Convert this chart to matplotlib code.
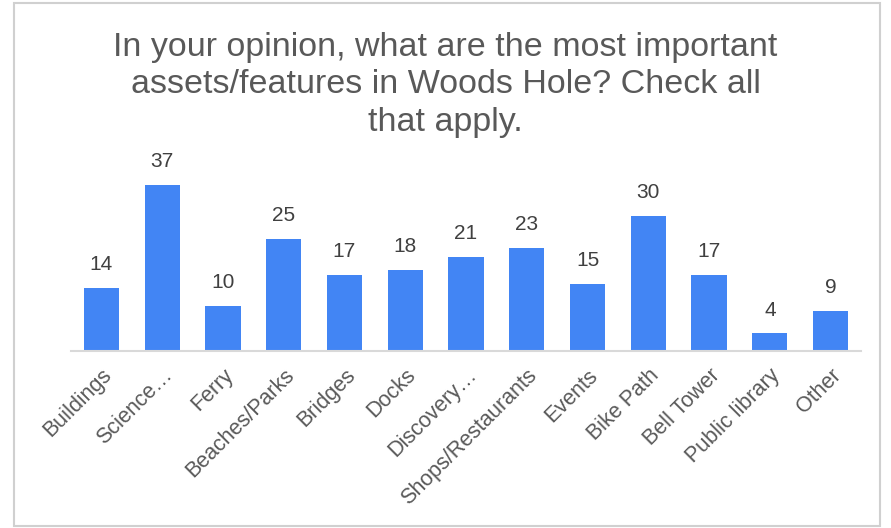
import matplotlib.pyplot as plt
from matplotlib.patches import Rectangle

plt.rcParams['font.family'] = ['Liberation Sans', 'DejaVu Sans']

categories = ['Buildings', 'Science…', 'Ferry', 'Beaches/Parks', 'Bridges', 'Docks',
              'Discovery…', 'Shops/Restaurants', 'Events', 'Bike Path', 'Bell Tower',
              'Public library', 'Other']
counts = [14, 37, 10, 25, 17, 18, 21, 23, 15, 30, 17, 4, 9]

title = "In your opinion, what are the most important\nassets/features in Woods Hole? Check all\nthat apply."

fig = plt.figure(figsize=(8.91, 5.28), dpi=100)
fig.patches.append(Rectangle((14 / 891, 2 / 528), 866 / 891, 523 / 528,
                             transform=fig.transFigure, fill=False,
                             edgecolor='#d0d0d0', linewidth=1.5))

ax = fig.add_axes([71 / 891, 177 / 528, 790 / 891, 180 / 528])
x = range(len(categories))
bars = ax.bar(x, counts, width=0.58, color='#4285f4')

for b, v in zip(bars, counts):
    ax.text(b.get_x() + b.get_width() / 2, v + 3.0, str(v), ha='center', va='bottom',
            fontsize=15, color='#404040')

ax.set_xlim(-0.5, len(categories) - 0.5)
ax.set_ylim(0, 40)
ax.set_yticks([])
ax.set_xticks(list(x))
ax.set_xticklabels(categories, rotation=45, ha='right', rotation_mode='anchor',
                   fontsize=15.5, color='#595959')
ax.tick_params(axis='x', length=0, pad=10)
for s in ['top', 'right', 'left']:
    ax.spines[s].set_visible(False)
ax.spines['bottom'].set_color('#d9d9d9')
ax.spines['bottom'].set_linewidth(1.5)

fig.text(0.5, 0.94, title, ha='center', va='top', fontsize=24.5, color='#595959',
         linespacing=1.28)

fig.savefig('out.png', dpi=100)
